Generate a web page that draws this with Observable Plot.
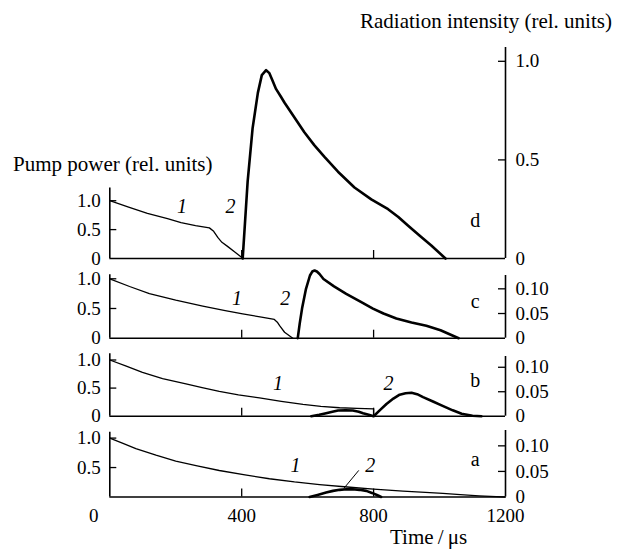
<!DOCTYPE html>
<html><head><meta charset="utf-8">
<script src="https://cdn.jsdelivr.net/npm/d3@7"></script>
<script src="https://cdn.jsdelivr.net/npm/@observablehq/plot@0.6"></script>
<style>
html,body{margin:0;padding:0;background:#fff;}
#chart{position:relative;width:628px;height:549px;overflow:hidden;font-family:'Liberation Serif','Times New Roman','DejaVu Serif',serif;color:#000;background:#fff;}
#chart svg{position:absolute;left:0;top:0;}
.lbl{position:absolute;white-space:nowrap;font-size:21px;line-height:21px;}
</style></head><body>
<div id="chart">
  <div class="lbl" style="left:360px;top:11px">Radiation intensity (rel. units)</div>
  <div class="lbl" style="left:13px;top:154px">Pump power (rel. units)</div>
  <div class="lbl" style="left:390px;top:527px">Time&thinsp;/&thinsp;μs</div>
</div>
<script>
// ---------- data (time in µs, value in rel. units) ----------
const pumpD = [[0,1.0],[57,0.89],[114,0.78],[175,0.69],[216,0.62],[260,0.57],[302,0.53],[315,0.47],[328,0.36],[340,0.28],[357,0.21],[380,0.11],[404,0]];
const radD = [[403,0],[408,0.13],[418,0.39],[433,0.66],[449,0.84],[461,0.93],[474,0.955],[484,0.94],[494,0.90],[504,0.86],[519,0.82],[530,0.79],[560,0.715],[590,0.64],[620,0.575],[651,0.515],[692,0.44],[742,0.36],[793,0.30],[844,0.25],[875,0.21],[904,0.167],[940,0.115],[975,0.066],[1018,0]];

const pumpC = [[0,1.0],[60,0.87],[120,0.75],[200,0.64],[282,0.54],[350,0.465],[403,0.41],[460,0.355],[499,0.315],[508,0.27],[515,0.21],[530,0.10],[555,0]];
const radC = [[570,0],[576,0.03],[583,0.06],[595,0.10],[607,0.127],[614,0.135],[621,0.137],[628,0.135],[636,0.13],[648,0.12],[680,0.105],[717,0.09],[760,0.074],[798,0.06],[830,0.05],[869,0.04],[915,0.032],[960,0.025],[1003,0.016],[1058,0]];

const pumpB = [[0,1.0],[50,0.89],[99,0.78],[160,0.67],[231,0.575],[280,0.51],[332,0.44],[390,0.38],[454,0.325],[520,0.265],[586,0.21],[640,0.175],[697,0.15],[750,0.14],[800,0.13],[800,0]];
const radB = [[611,0],[635,0.003],[656,0.006],[675,0.009],[692,0.0116],[715,0.012],[737,0.0116],[755,0.009],[768,0.006],[785,0.003],[800,0],[820,0.013],[839,0.025],[860,0.036],[879,0.044],[897,0.047],[915,0.048],[932,0.045],[950,0.039],[980,0.03],[1006,0.022],[1040,0.012],[1067,0.005],[1100,0.001],[1127,0]];

const pumpA = [[0,1.0],[40,0.91],[79,0.82],[140,0.71],[200,0.61],[265,0.53],[332,0.45],[410,0.375],[484,0.31],[560,0.255],[636,0.21],[720,0.17],[800,0.135],[889,0.10],[957,0.08],[1010,0.06],[1063,0.04],[1120,0.02],[1172,0.008],[1200,0]];
const radA = [[606,0],[630,0.004],[656,0.0087],[677,0.012],[697,0.014],[717,0.015],[737,0.015],[757,0.014],[778,0.012],[795,0.008],[810,0.004],[823,0]];

// ---------- ticks ----------
const xTicks = [400, 800, 1200];
const xTickLabels = ["400", "800", "1200"];
const xInnerTicks = [400, 800];
const pumpTicks = [0, 0.5, 1.0];
const pumpTickLabels = ["0", "0.5", "1.0"];
const radTicksD = [0, 0.5, 1.0];
const radTickLabelsD = ["0", "0.5", "1.0"];
const radTicksSmall = [0, 0.05, 0.10];
const radTickLabelsSmall = ["0", "0.05", "0.10"];

// ---------- annotations (data units) ----------
const curveLabels = [
  {panel:"d", text:"1", t:219, v:0.89}, {panel:"d", text:"2", t:366, v:0.89},
  {panel:"c", text:"1", t:386, v:0.66}, {panel:"c", text:"2", t:532, v:0.66},
  {panel:"b", text:"1", t:510, v:0.58}, {panel:"b", text:"2", t:845, v:0.58},
  {panel:"a", text:"1", t:563, v:0.535}, {panel:"a", text:"2", t:790, v:0.535}
];
const panelLetters = [
  {panel:"d", text:"d", t:1108, v:0.65},
  {panel:"c", text:"c", t:1108, v:0.61},
  {panel:"b", text:"b", t:1108, v:0.63},
  {panel:"a", text:"a", t:1108, v:0.64}
];
const leaderA = [{t1:710, r1:0.017, t2:755, r2:0.052}];

// ---------- layout ----------
const W = 628, H = 549, ML = 109.3, MR = 123;
const FONT = "'Liberation Serif','Times New Roman','DejaVu Serif',serif";
const frameW = W - ML - MR;
const panels = [
  {id:"d", pump:pumpD, rad:radD, bottom:258, pumpTopPx:187.5, pumpTop:1.22, radTopPx:47, radTop:1.07, leftTicks:pumpTicks, radTicks:radTicksD, radLabels:radTickLabelsD},
  {id:"c", pump:pumpC, rad:radC, bottom:337.7, pumpTopPx:274.3, pumpTop:1.067, radTopPx:275, radTop:0.127, leftTicks:pumpTicks, radTicks:radTicksSmall, radLabels:radTickLabelsSmall},
  {id:"b", pump:pumpB, rad:radB, bottom:415.7, pumpTopPx:353.3, pumpTop:1.11, radTopPx:356, radTop:0.122, leftTicks:pumpTicks, radTicks:radTicksSmall, radLabels:radTickLabelsSmall},
  {id:"a", pump:pumpA, rad:radA, bottom:496.5, pumpTopPx:431.7, pumpTop:1.10, radTopPx:430, radTop:0.13, leftTicks:[0.5, 1.0], radTicks:radTicksSmall, radLabels:radTickLabelsSmall}
];

const fmt = (vals, labels) => d => { const i = vals.findIndex(v => Math.abs(v - d) < 1e-9); return i >= 0 ? labels[i] : ""; };
const chart = document.getElementById("chart");
const style = {fontFamily: FONT, fontSize: "19px", background: "transparent", color: "black", overflow: "visible"};

for (const p of panels) {
  const pumpH = p.bottom - p.pumpTopPx;
  const isBottom = p.id === "a";

  const pumpMarks = [
    Plot.ruleX([0], {stroke: "black", strokeWidth: 1.6}),
    Plot.ruleY([0], {stroke: "black", strokeWidth: 1.6}),
    Plot.tickY(p.leftTicks.filter(v => v > 0), {y: d => d, insetRight: frameW - 7, stroke: "black", strokeWidth: 1.3}),
    Plot.tickX(xInnerTicks, {x: d => d, insetTop: pumpH - 8, stroke: "black", strokeWidth: 1.3}),
    Plot.axisY({anchor: "left", ticks: p.leftTicks, tickSize: 0, tickPadding: 9, tickFormat: fmt(pumpTicks, pumpTickLabels), label: null, fontFamily: FONT}),
    Plot.line(p.pump, {x: d => d[0], y: d => d[1], stroke: "black", strokeWidth: 1.3}),
    Plot.text(curveLabels.filter(l => l.panel === p.id), {x: "t", y: "v", text: "text", fontStyle: "italic", fontSize: 20, fontFamily: FONT}),
    Plot.text(panelLetters.filter(l => l.panel === p.id), {x: "t", y: "v", text: "text", fontSize: 20, fontFamily: FONT})
  ];
  if (isBottom) {
    pumpMarks.push(
      Plot.axisX({anchor: "bottom", ticks: xTicks, tickSize: 0, tickPadding: 11, tickFormat: fmt(xTicks, xTickLabels), label: null, fontFamily: FONT}),
      Plot.text([0], {x: d => d, frameAnchor: "bottom", lineAnchor: "top", dy: 11, dx: -16, text: () => "0", fontSize: 19, fontFamily: FONT})
    );
  }
  const pumpPlot = Plot.plot({
    width: W, height: H, marginLeft: ML, marginRight: MR,
    marginTop: p.pumpTopPx, marginBottom: H - p.bottom,
    style,
    x: isBottom ? {domain: [0, 1200]} : {domain: [0, 1200], axis: null},
    y: {domain: [0, p.pumpTop]},
    marks: pumpMarks
  });

  const radMarks = [
    Plot.ruleX([1200], {stroke: "black", strokeWidth: 1.6}),
    Plot.tickY(p.radTicks.filter(v => v > 0), {y: d => d, insetLeft: frameW - 7, stroke: "black", strokeWidth: 1.3}),
    Plot.axisY({anchor: "right", ticks: p.radTicks, tickSize: 0, tickPadding: 10, tickFormat: fmt(p.radTicks, p.radLabels), label: null, fontFamily: FONT}),
    Plot.line(p.rad, {x: d => d[0], y: d => d[1], stroke: "black", strokeWidth: 2.6})
  ];
  if (isBottom) {
    radMarks.push(Plot.link(leaderA, {x1: "t1", y1: "r1", x2: "t2", y2: "r2", stroke: "black", strokeWidth: 1}));
  }
  const radPlot = Plot.plot({
    width: W, height: H, marginLeft: ML, marginRight: MR,
    marginTop: p.radTopPx, marginBottom: H - p.bottom,
    style,
    x: {domain: [0, 1200], axis: null},
    y: {domain: [0, p.radTop]},
    marks: radMarks
  });
  chart.appendChild(pumpPlot);
  chart.appendChild(radPlot);
}
</script>
</body></html>
